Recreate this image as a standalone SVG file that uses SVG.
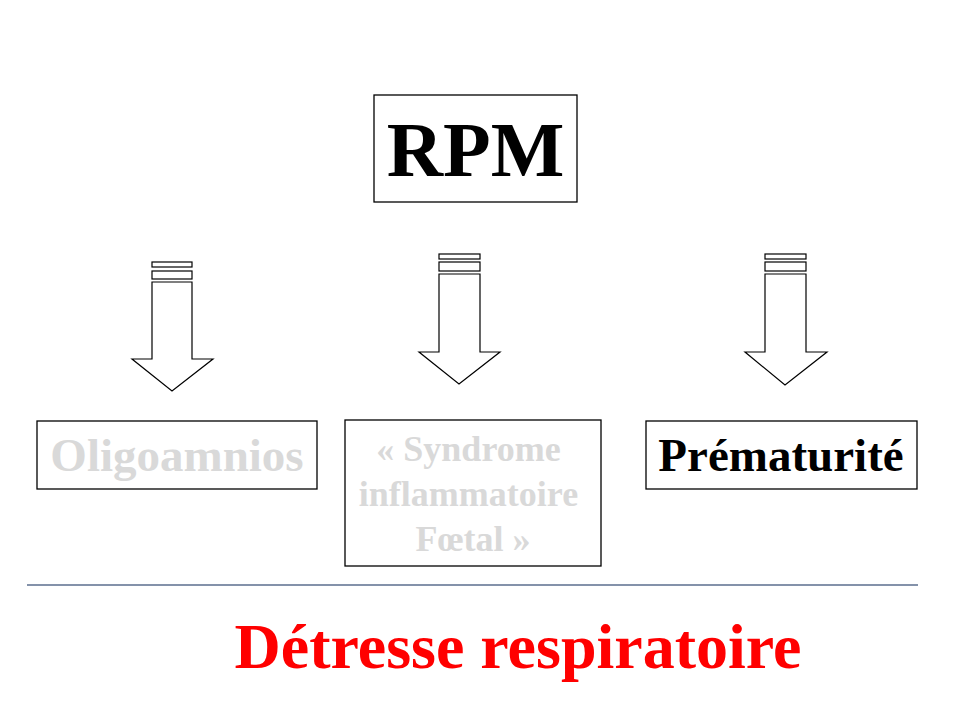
<svg xmlns="http://www.w3.org/2000/svg" width="960" height="720" viewBox="0 0 960 720">
<style>
.box{fill:#fff;stroke:#000;stroke-width:1.3}
.t{font-family:"Liberation Serif","Times New Roman",serif;font-weight:bold;text-anchor:middle}
.arr{fill:#fff;stroke:#000;stroke-width:1.2;stroke-linejoin:miter}
</style>
<rect width="960" height="720" fill="#fff"/>
<g id="rpm">
<rect class="box" x="374" y="95" width="203" height="107"/>
<text class="t" x="475.5" y="176" font-size="78" fill="#000">RPM</text>
</g>
<g id="connectors">
<g id="arrow1">
<rect class="arr" x="152" y="262" width="40" height="5"/>
<rect class="arr" x="152" y="271" width="40" height="8"/>
<path class="arr" d="M152,282 H192 V359 H213 L172,391 L132,359 H152 Z"/>
</g>
<g id="arrow2">
<rect class="arr" x="439" y="254" width="41" height="5"/>
<rect class="arr" x="439" y="262" width="41" height="9"/>
<path class="arr" d="M439,274 H480 V352 H500 L459,384 L419,352 H439 Z"/>
</g>
<g id="arrow3">
<rect class="arr" x="765" y="254" width="41" height="5"/>
<rect class="arr" x="765" y="262" width="41" height="9"/>
<path class="arr" d="M765,274 H806 V352 H827 L785,385 L745,352 H765 Z"/>
</g>
<line x1="27" y1="585" x2="918" y2="585" stroke="#5b6e8e" stroke-width="1.5"/>
</g>
<g id="oligoamnios">
<rect class="box" x="37" y="421" width="280" height="68"/>
<text class="t" x="177" y="471" font-size="47" fill="#d9d9d9">Oligoamnios</text>
</g>
<g id="syndrome">
<rect class="box" x="345" y="420" width="256" height="146"/>
<text class="t" font-size="36" fill="#d9d9d9">
<tspan x="473" y="461">« Syndrome</tspan>
<tspan x="473" y="506">inflammatoire</tspan>
<tspan x="473" y="551">Fœtal »</tspan>
</text>
</g>
<g id="prematurite">
<rect class="box" x="646" y="421" width="271" height="68"/>
<text class="t" x="781" y="471" font-size="47" fill="#000">Prématurité</text>
</g>
<g id="detresse">
<text class="t" x="518" y="668" font-size="64" fill="#ff0000">Détresse respiratoire</text>
</g>
</svg>
